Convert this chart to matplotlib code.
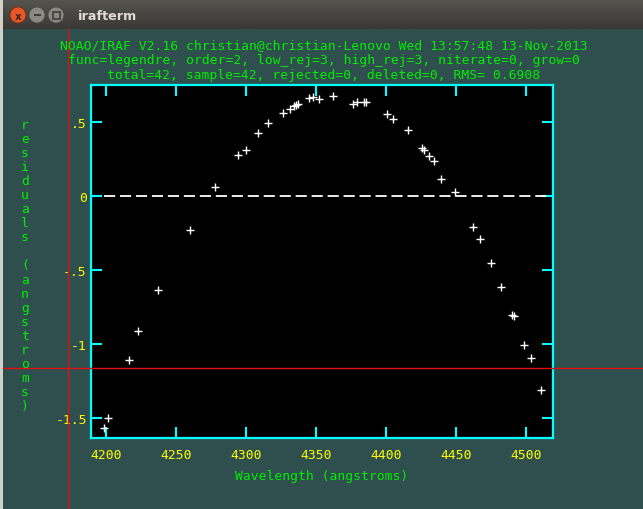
"""
IRAF icfit residuals plot inside an irafterm window, redrawn with matplotlib.
"""

import matplotlib.pyplot as plt
import numpy as np
from matplotlib.patches import Circle, Rectangle

# residuals of the legendre fit (angstroms)
wavelength = [4198.6, 4201.2, 4216.4, 4223.1, 4237.4, 4260.0, 4277.9, 4294.5,
              4300.2, 4308.4, 4315.5, 4326.2, 4331.4, 4334.3, 4335.7, 4337.1,
              4345.2, 4347.6, 4352.4, 4362.4, 4376.2, 4379.5, 4384.3, 4385.7,
              4400.9, 4404.8, 4415.5, 4425.7, 4427.1, 4430.5, 4434.3, 4439.5,
              4449.1, 4461.9, 4466.9, 4474.8, 4481.9, 4490.0, 4491.4, 4498.6,
              4503.6, 4510.7]
residuals = [-1.572, -1.500, -1.110, -0.916, -0.637, -0.230, 0.057, 0.273,
             0.311, 0.424, 0.491, 0.557, 0.586, 0.606, 0.613, 0.620,
             0.662, 0.669, 0.651, 0.676, 0.620, 0.635, 0.635, 0.635,
             0.552, 0.520, 0.442, 0.324, 0.307, 0.270, 0.234, 0.115,
             0.027, -0.209, -0.291, -0.453, -0.615, -0.806, -0.811, -1.007,
             -1.097, -1.313]
fit_range = [4198.6, 4516.0]

x_ticks = [4200, 4250, 4300, 4350, 4400, 4450, 4500]
y_ticks = [-1.5, -1.0, -0.5, 0.0, 0.5]
y_tick_labels = ["-1.5", "-1", "-.5", "0", ".5"]

title_lines = [
    "NOAO/IRAF V2.16 christian@christian-Lenovo Wed 13:57:48 13-Nov-2013",
    "func=legendre, order=2, low_rej=3, high_rej=3, niterate=0, grow=0",
    "total=42, sample=42, rejected=0, deleted=0, RMS= 0.6908",
]
x_label = "Wavelength (angstroms)"
y_label = "residuals (angstroms)"

BG = "#2f4f4f"
GREEN = "#00ee00"
YELLOW = "#ffff00"
CYAN = "#00ffff"
MONO = "DejaVu Sans Mono"
FS = 9.4

W, H = 643, 510


def px_box(left, top, right, bottom):
    return [left / W, 1 - bottom / H, (right - left) / W, (bottom - top) / H]


def main():
    plt.rcParams["lines.scale_dashes"] = False
    fig = plt.figure(figsize=(W / 100, H / 100), dpi=100, facecolor=BG)

    ax = fig.add_axes(px_box(91, 85.7, 553.3, 438.7), facecolor="black")
    ax.plot(fit_range, [0, 0], color="white", lw=1.3, dashes=(8, 3.5))
    ax.plot(wavelength, residuals, ls="none", marker="+", ms=6.4,
            mew=1.0, color="white")
    ax.set_xlim(4189.3, 4519.5)
    ax.set_ylim(-1.635, 0.75)
    ax.set_xticks(x_ticks)
    ax.set_yticks(y_ticks)
    ax.set_yticklabels(y_tick_labels)
    for s in ax.spines.values():
        s.set_color(CYAN)
        s.set_linewidth(1.6)
    ax.tick_params(direction="in", length=7.6, width=1.5, color=CYAN,
                   top=True, right=True, labelcolor=YELLOW,
                   labelsize=FS)
    ax.tick_params(axis="x", pad=7.5)
    ax.tick_params(axis="y", pad=3)
    for lab in ax.get_xticklabels() + ax.get_yticklabels():
        lab.set_fontfamily(MONO)

    # window chrome, text and cursor drawn in pixel coordinates
    ov = fig.add_axes([0, 0, 1, 1], zorder=10)
    ov.set_axis_off()
    ov.patch.set_visible(False)

    grad = np.linspace(0, 1, 30)[:, None, None]
    top_c = np.array([0x55, 0x54, 0x4f]) / 255
    bot_c = np.array([0x3a, 0x39, 0x35]) / 255
    bar = top_c * (1 - grad) + bot_c * grad
    ov.imshow(np.repeat(bar, 4, axis=1), extent=[0, W, 30, 0], aspect="auto")
    ov.add_patch(Rectangle((0, 0), 3, H, color="#d3d0c9", lw=0))

    ov.add_patch(Circle((18, 16), 8, facecolor="#e8572a", edgecolor="#7a2e12", lw=0.6))
    ov.text(18, 16.5, "x", color="#3a2418", fontsize=7.5, ha="center",
            va="center", fontweight="bold")
    for cx in (37, 56):
        ov.add_patch(Circle((cx, 16), 8, facecolor="#8a8984", edgecolor="#4a4945", lw=0.6))
    ov.add_patch(Rectangle((33.5, 15.2), 7, 1.6, color="#3c3b37", lw=0))
    ov.add_patch(Rectangle((52.5, 12.5), 7, 7, facecolor="none",
                           edgecolor="#3c3b37", lw=1.2))
    ov.text(78, 16, "irafterm", color="#dfdbd2", fontsize=9.2,
            fontweight="bold", va="center", ha="left")

    for i, line in enumerate(title_lines):
        ov.text(323.5, 46 + 14.6 * i, line, color=GREEN, fontsize=FS,
                family=MONO, ha="center", va="center")
    ov.text(322, 477, x_label, color=GREEN, fontsize=FS, family=MONO,
            ha="center", va="center")
    for i, ch in enumerate(y_label):
        ov.text(25, 125.3 + 14.07 * i, ch, color=GREEN, fontsize=FS,
                family=MONO, ha="center", va="center")

    # red cursor crosshair
    ov.plot([68, 68], [30, H], color="#e01010", lw=1.0)
    ov.plot([3, W], [369.3, 369.3], color="#e01010", lw=1.0)
    ov.set_xlim(0, W)
    ov.set_ylim(H, 0)

    fig.savefig("out.png", dpi=100, facecolor=BG)
    plt.close(fig)


if __name__ == "__main__":
    main()
